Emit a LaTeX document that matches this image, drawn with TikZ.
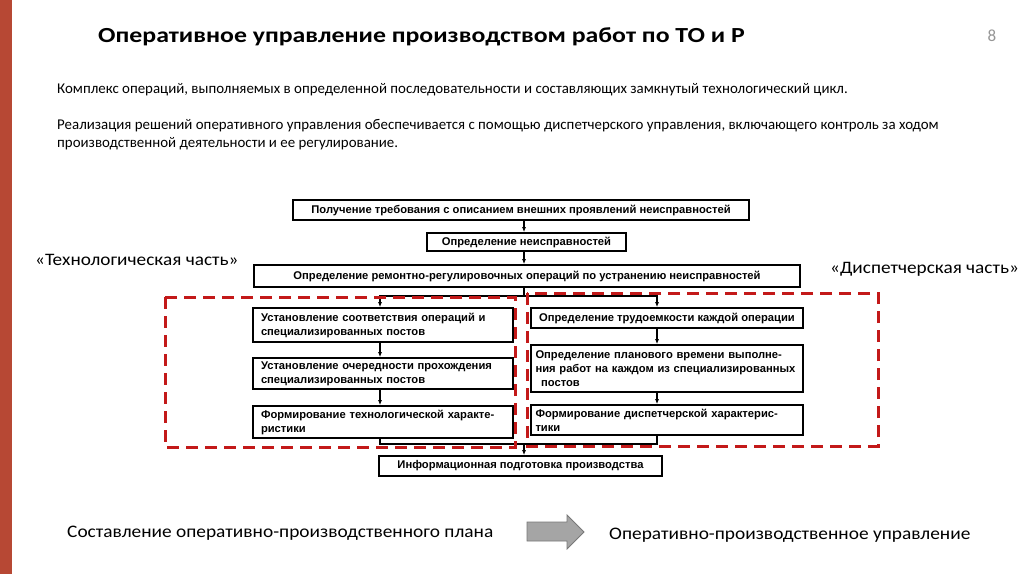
\documentclass[tikz,border=0pt]{standalone}
\usepackage{fontspec}
\setmainfont{Carlito}
\newfontfamily\titlefont{Carlito}[FakeStretch=1.2]
\newfontfamily\widefont{Carlito}[FakeStretch=1.1]
\newfontfamily\boxfont{Liberation Sans}
\usetikzlibrary{arrows.meta}
\definecolor{barred}{RGB}{183,72,52}
\definecolor{dashred}{RGB}{195,25,25}
\definecolor{pgray}{RGB}{150,150,150}
\definecolor{arrfill}{RGB}{165,165,165}
\definecolor{arredge}{RGB}{120,120,120}
\tikzset{
  x=1pt, y=-1pt,
  fbox/.style={draw=black, line width=1.7pt, inner sep=0pt, font=\boxfont\bfseries\fontsize{11.2}{14}\selectfont},
  mlbox/.style={fbox, align=left},
  conn/.style={line width=1.2pt},
  arr/.style={conn, -{Latex[length=5pt,width=4pt]}},
  reddash/.style={draw=dashred, line width=3pt, dash pattern=on 12pt off 7pt},
  slidetext/.style={anchor=base west, inner sep=0pt, font=\fontsize{14.9}{18}\selectfont},
  parttext/.style={anchor=base west, inner sep=0pt, font=\widefont\fontsize{17.5}{20}\selectfont},
  bottomtext/.style={anchor=base west, inner sep=0pt, font=\widefont\fontsize{17.6}{20}\selectfont},
}
\begin{document}
\begin{tikzpicture}
\useasboundingbox (0,0) rectangle (1024,574);
\fill[white] (0,0) rectangle (1024,574);
\fill[barred] (0,0) rectangle (12,574);

% title
\node[anchor=base west, inner sep=0pt, font=\titlefont\bfseries\fontsize{21.5}{24}\selectfont] (title) at (98,42) {Оперативное управление производством работ по ТО и Р};
\node[anchor=base, inner sep=0pt, text=pgray, font=\fontsize{17}{18}\selectfont] (pnum) at (992,41) {8};

% paragraphs
\node[slidetext] (p1) at (57,93) {Комплекс операций, выполняемых в определенной последовательности и составляющих замкнутый технологический цикл.};
\node[slidetext] (p2) at (57,129) {Реализация решений оперативного управления обеспечивается с помощью диспетчерского управления, включающего контроль за ходом};
\node[slidetext] (p3) at (57,147) {производственной деятельности и ее регулирование.};

% part labels
\node[parttext] (tech) at (35,265) {«Технологическая часть»};
\node[parttext] (disp) at (830,273) {«Диспетчерская часть»};

% boxes
\node[fbox, minimum width=456pt, minimum height=20pt] (b1) at (521,210) {Получение требования с описанием внешних проявлений неисправностей};
\node[fbox, minimum width=199pt, minimum height=18pt] (b2) at (526.5,242) {Определение неисправностей};
\node[fbox, minimum width=546pt, minimum height=22pt] (b3) at (527,276) {Определение ремонтно-регулировочных операций по устранению неисправностей};

\node[mlbox, minimum width=260pt, minimum height=34pt, text width=244pt] (l1) at (383,325) {Установление соответствия операций и\\специализированных постов};
\node[mlbox, minimum width=260pt, minimum height=31pt, text width=244pt] (l2) at (383,373.5) {Установление очередности прохождения\\специализированных постов};
\node[mlbox, minimum width=260pt, minimum height=32pt, text width=244pt] (l3) at (383,422) {Формирование технологической характе-\\ристики};

\node[fbox, minimum width=272pt, minimum height=20pt] (r1) at (667,318) {Определение трудоемкости каждой операции};
\node[mlbox, minimum width=272pt, minimum height=47pt, text width=263pt] (r2) at (667,368.5) {Определение планового времени выполне-\\ния работ на каждом из специализированных\\\ \,постов};
\node[mlbox, minimum width=272pt, minimum height=30pt, text width=263pt] (r3) at (667,420) {Формирование диспетчерской характерис-\\тики};

\node[fbox, minimum width=283pt, minimum height=20pt] (info) at (520.5,466) {Информационная подготовка производства};

% connectors
\coordinate (sp) at (524,296);
\coordinate (mg) at (524,444);
\coordinate (lx) at (380,0);
\coordinate (rx) at (657,0);
\draw[arr] (b1.south -| sp) -- (b2.north -| sp);
\draw[arr] (b2.south -| sp) -- (b3.north -| sp);
\draw[conn] (b3.south -| sp) -- (sp);
\draw[arr] (sp) -| (l1.north -| lx);
\draw[arr] (sp) -| (r1.north -| rx);
\draw[arr] (l1.south -| lx) -- (l2.north -| lx);
\draw[arr] (l2.south -| lx) -- (l3.north -| lx);
\draw[arr] (r1.south -| rx) -- (r2.north -| rx);
\draw[arr] (r2.south -| rx) -- (r3.north -| rx);
\draw[conn] (l3.south -| lx) |- (mg);
\draw[conn] (r3.south -| rx) |- (mg);
\draw[arr] (mg) -- (info.north -| mg);

% red dashed frames
\draw[reddash] (165,297) rectangle (515,447);
\draw[reddash] (527,293) rectangle (878,446);

% bottom
\node[bottomtext] (plan) at (67,537) {Составление оперативно-производственного плана};
\node[bottomtext] (ctrl) at (609,539) {Оперативно-производственное управление};
\filldraw[fill=arrfill, draw=arredge, line width=0.8pt] (527,522) -- (567,522) -- (567,515) -- (584,532) -- (567,549) -- (567,541) -- (527,541) -- cycle;
\end{tikzpicture}
\end{document}
